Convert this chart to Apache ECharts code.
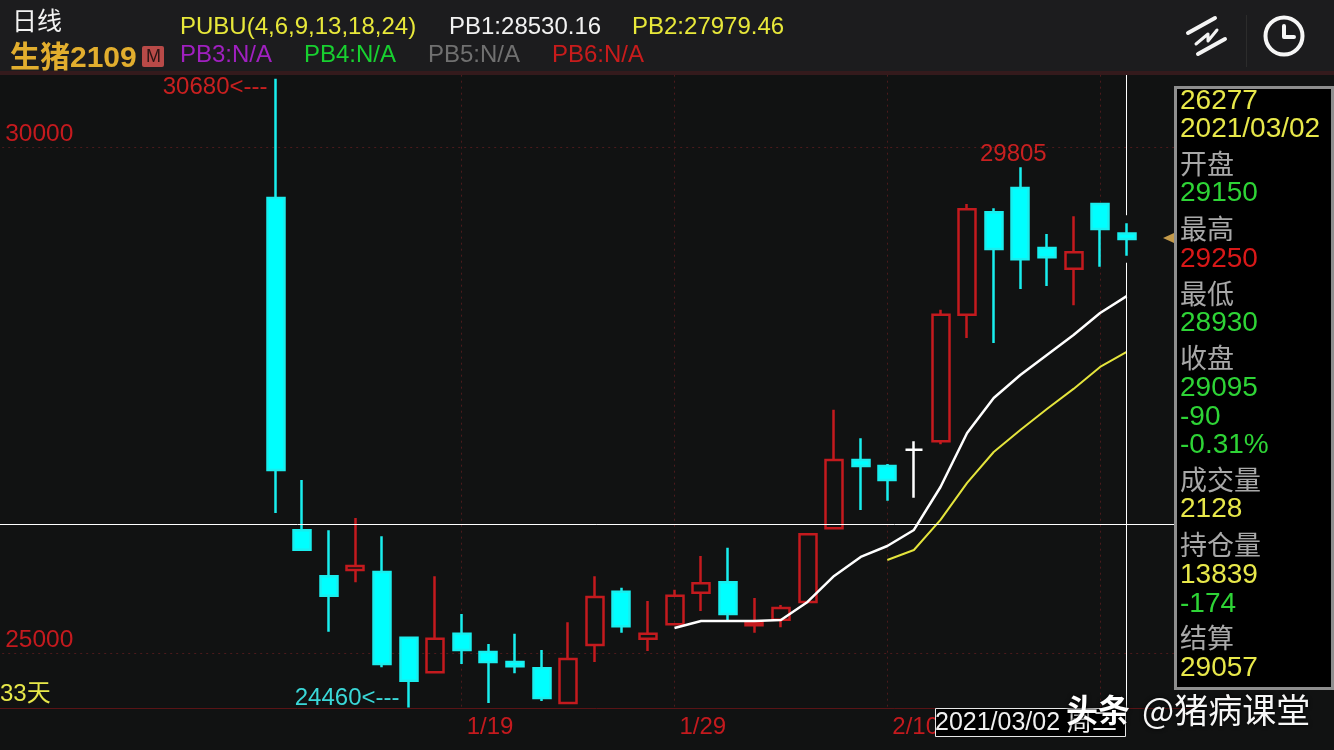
<!DOCTYPE html>
<html>
<head>
<meta charset="utf-8">
<style>
html,body{margin:0;padding:0;background:#111212;}
#chart{width:1334px;height:750px;}
</style>
<script src="https://cdn.jsdelivr.net/npm/echarts@6/dist/echarts.min.js"></script>
</head>
<body>
<div id="chart"></div>
<script type="text/javascript">
// 日期
var dates = ['1/8','1/11','1/12','1/13','1/14','1/15','1/18','1/19','1/20','1/21','1/22','1/25','1/26','1/27','1/28','1/29',
  '2/1','2/2','2/3','2/4','2/5','2/8','2/9','2/10','2/18','2/19','2/22','2/23','2/24','2/25','2/26','3/1','3/2'];
// K线
var opens  = [29500,26215,25760,25820,25800,25150,24810,25190,25010,24910,24850,24505,25080,25605,25140,25285,25595,25700,25275,25330,25505,26235,26910,26850,27010,27095,28345,29360,29600,29005,28800,29440,29150];
var closes = [26810,26020,25565,25860,24890,24725,25140,25030,24910,24870,24555,24940,25555,25265,25190,25565,25690,25385,25300,25445,26175,26910,26850,26710,27010,28345,29390,28995,28895,28915,28965,29195,29095];
var lows   = [26385,26020,25210,25700,24860,24460,24800,24890,24505,24800,24525,24505,24910,25200,25020,25285,25415,25315,25200,25255,25505,26235,26415,26505,26535,27065,28115,28065,28600,28630,28440,28820,28930];
var highs  = [30680,26710,26215,26335,26155,25150,25760,25385,25090,25190,25030,25305,25760,25645,25515,25625,25960,26040,25545,25475,26175,27405,27125,26870,27095,28395,29440,29400,29805,29145,29320,29440,29250];
// PB1 PB2
var pb1Dates = dates.slice(15);
var pb1 = [25247,25317,25317,25317,25327,25505,25762,25950,26058,26217,26642,27176,27522,27750,27948,28145,28363,28530.16];
var pb2Dates = dates.slice(23);
var pb2 = [25920,26019,26316,26682,26988,27206,27414,27612,27829,27979.46];
var priceTicks = [25000, 30000];
var dateLabels = ['1/19','1/29','2/10'];
var dateLines = ['1/19','1/29','2/10','3/1'];
var crossPrice = 26277;
var crossDate = '3/2';
// 右侧面板
var panelTexts = ['26277','2021/03/02','开盘','29150','最高','29250','最低','28930','收盘','29095','-90','-0.31%','成交量','2128','持仓量','13839','-174','结算','29057'];
var panelKinds = ['y','y','g','n','g','r','g','n','g','n','n','n','g','y','g','y','n','g','y'];
var panelRowY = [101,129,164,193,229,259,294,323,358,388,417,445,480,509,545,575,604,638,668];

var RED = '#c41a1e', CYAN = '#19eeee', FONT = '"Liberation Sans",Arial,"Noto Sans CJK SC",sans-serif', CJK = '"Noto Sans CJK SC","Liberation Sans",sans-serif';
var panelColor = {y:'#e8e84a', g:'#a8a8a8', n:'#2ed436', r:'#d81818'};

var blankBefore = new Array(10).fill(''), blankAfter = new Array(2).fill('');
var candles = dates.map(function (d, i) { return [d, opens[i], closes[i], lows[i], highs[i]]; });

function txt(x, y, s, color, size, extra) {
  var st = {x: x, y: y, text: s, fill: color, font: (extra && extra.weight || 'normal') + ' ' + size + 'px ' + (extra && extra.cjk ? CJK : FONT), verticalAlign: 'middle', align: 'left'};
  if (extra && extra.shadow) { st.textShadowColor = '#000'; st.textShadowBlur = 4; }
  return {type: 'text', z: (extra && extra.z) || 100, silent: true, style: st};
}
function lineEl(points, color, width, z) {
  return {type: 'polyline', z: z || 101, silent: true, shape: {points: points}, style: {fill: null, stroke: color, lineWidth: width, lineCap: 'round', lineJoin: 'round'}};
}

var graphics = [
  {type: 'rect', z: 90, silent: true, shape: {x: 0, y: 0, width: 1334, height: 72}, style: {fill: '#1c1c1e'}},
  {type: 'rect', z: 90, silent: true, shape: {x: 0, y: 71, width: 1334, height: 4}, style: {fill: '#341a1c'}},
  txt(12, 20, '日线', '#f2f2f2', 25, {cjk: true}),
  txt(10, 59, '生猪2109', '#e2ae2e', 30, {weight: 'bold'}),
  {type: 'rect', z: 100, silent: true, shape: {x: 142, y: 46, width: 22, height: 21, r: 2}, style: {fill: '#b84a48'}},
  txt(146, 57, 'M', '#2a1414', 18),
  txt(180, 27, 'PUBU(4,6,9,13,18,24)', '#e8e83a', 24),
  txt(449, 27, 'PB1:28530.16', '#f2f2f2', 24),
  txt(632, 27, 'PB2:27979.46', '#e8e83a', 24),
  txt(180, 55, 'PB3:N/A', '#a020c0', 24),
  txt(304, 55, 'PB4:N/A', '#18d030', 24),
  txt(428, 55, 'PB5:N/A', '#707070', 24),
  txt(552, 55, 'PB6:N/A', '#c81c1c', 24),
  // 工具图标
  lineEl([[1188,33],[1215,18]], '#f4f4f4', 4),
  lineEl([[1198,54],[1225,39]], '#f4f4f4', 4),
  lineEl([[1196,44],[1208,34],[1208,41],[1217,30]], '#f4f4f4', 3),
  {type: 'rect', z: 100, silent: true, shape: {x: 1246, y: 15, width: 1, height: 52}, style: {fill: '#2c2c2c'}},
  {type: 'circle', z: 100, silent: true, shape: {cx: 1284, cy: 36, r: 18.5}, style: {fill: null, stroke: '#f6f6f6', lineWidth: 4}},
  lineEl([[1284,26],[1284,37],[1294,37]], '#f6f6f6', 4),
  // 面板
  {type: 'rect', z: 95, silent: true, shape: {x: 1175.5, y: 87.5, width: 157, height: 601}, style: {fill: '#000', stroke: '#8e8e8e', lineWidth: 3}},
  {type: 'polygon', z: 95, silent: true, shape: {points: [[1163,238],[1174,233],[1174,243]]}, style: {fill: '#c49a4a'}},
  // 底部
  txt(0, 694, '33天', '#e8e84a', 24),
  {type: 'rect', z: 96, silent: true, shape: {x: 935.5, y: 708.5, width: 190, height: 28}, style: {fill: '#000', stroke: '#e8e8e8', lineWidth: 1}},
  txt(935, 723, '2021/03/02 周二', '#f0f0f0', 25),
  txt(1066, 710, '头条', '#ffffff', 32, {cjk: true, weight: 'bold', shadow: true, z: 110}),
  txt(1142, 710, '@猪病课堂', '#f6f6f6', 34, {cjk: true, shadow: true, z: 110})
];
panelTexts.forEach(function (s, i) {
  graphics.push(txt(1180, panelRowY[i], s, panelColor[panelKinds[i]], panelKinds[i] === 'g' ? 27 : 28, {cjk: panelKinds[i] === 'g'}));
});

var myChart = echarts.init(document.getElementById('chart'));
var option = {
  animation: false,
  backgroundColor: '#111212',
  textStyle: {fontFamily: FONT},
  grid: {left: -3.8, top: 74.7, width: 1197, height: 633.9, containLabel: false, outerBoundsMode: 'none'},
  xAxis: {
    type: 'category',
    boundaryGap: true,
    data: blankBefore.concat(dates, blankAfter),
    axisLine: {show: true, lineStyle: {color: '#5a1416', width: 1}},
    axisTick: {show: false, alignWithLabel: true},
    axisLabel: {
      show: true, color: RED, fontSize: 24, fontFamily: FONT, align: 'left', margin: 7, padding: [0, 0, 0, 5],
      interval: function (i, v) { return dateLabels.indexOf(v) >= 0; }
    },
    splitLine: {
      show: true,
      alignWithLabel: true,
      interval: function (i, v) { return dateLines.indexOf(v) >= 0; },
      lineStyle: {color: '#4c1a1c', type: [2, 4], width: 1}
    }
  },
  yAxis: {
    type: 'value',
    min: 24450,
    max: 30720,
    axisLine: {show: false},
    axisTick: {show: false, customValues: priceTicks},
    axisLabel: {
      show: true, inside: true, customValues: priceTicks, color: RED, fontSize: 24.5, fontFamily: FONT, margin: 9, verticalAlign: 'bottom', lineHeight: 26,
      formatter: function (v) { return String(v); }
    },
    splitLine: {show: true, lineStyle: {color: '#4c1a1c', type: [2, 4], width: 1}}
  },
  series: [
    {
      name: 'K',
      type: 'candlestick',
      barWidth: 17.5,
      encode: {x: 0, y: [1, 2, 3, 4]},
      data: candles,
      itemStyle: {color: 'transparent', color0: '#00ffff', borderColor: RED, borderColor0: CYAN, borderColorDoji: '#ffffff', borderWidth: 2.5},
      markPoint: {
        silent: true, symbol: 'circle', symbolSize: 0,
        data: [
          {coord: ['1/8', 30680], value: 30680, label: {formatter: '30680<---', color: '#c82020', position: 'left', distance: 8, offset: [0, 9]}},
          {coord: ['1/15', 24460], value: 24460, label: {formatter: '24460<---', color: '#3ad8d8', position: 'left', distance: 9, offset: [0, -9]}},
          {coord: ['2/24', 29805], value: 29805, label: {formatter: '29805', color: '#c82020', position: 'inside', offset: [-7, -13]}}
        ],
        label: {show: true, fontSize: 24, fontFamily: FONT}
      }
    },
    {
      name: 'PB1', type: 'line', showSymbol: false, symbol: 'none',
      data: pb1Dates.map(function (d, i) { return [d, pb1[i]]; }),
      lineStyle: {color: '#ffffff', width: 2.5}
    },
    {
      name: 'PB2', type: 'line', showSymbol: false, symbol: 'none',
      data: pb2Dates.map(function (d, i) { return [d, pb2[i]]; }),
      lineStyle: {color: '#e4e43c', width: 2},
      // 十字线
      markLine: {
        silent: true, symbol: 'none', label: {show: false},
        lineStyle: {color: '#ffffff', width: 1, type: 'solid'},
        data: [
          {yAxis: crossPrice},
          [{xAxis: crossDate, yAxis: 30720}, {xAxis: crossDate, yAxis: 29330}],
          [{xAxis: crossDate, yAxis: 28860}, {xAxis: crossDate, yAxis: 24450}]
        ]
      }
    }
  ],
  graphic: graphics
};
myChart.setOption(option);
</script>
</body>
</html>
